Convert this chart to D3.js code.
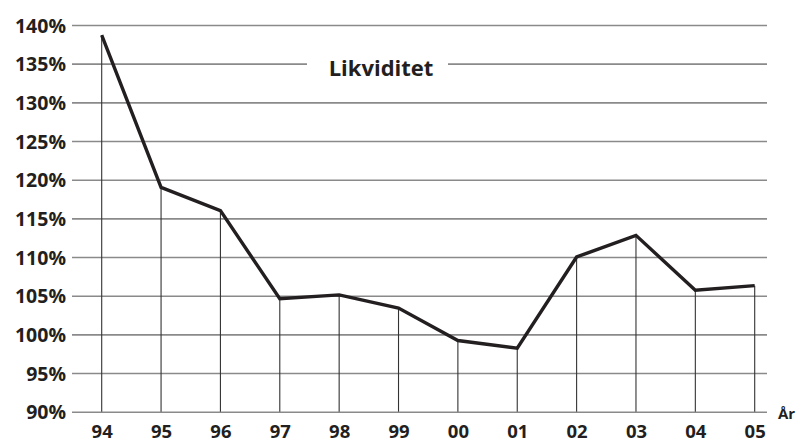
<!DOCTYPE html>
<html><head><meta charset="utf-8">
<script src="https://cdn.jsdelivr.net/npm/d3@7"></script>
<style>
html,body{margin:0;padding:0;background:#fff;}
text{font-family:"Open Sans",sans-serif;font-weight:700;fill:#231f20;}
</style></head>
<body><svg id="c" width="799" height="443"></svg>
<script>
const years = ["94","95","96","97","98","99","00","01","02","03","04","05"];
const values = [138.7,119.0,116.0,104.6,105.1,103.4,99.2,98.2,110.0,112.8,105.7,106.3];
const yTicks = [90,95,100,105,110,115,120,125,130,135,140];
const title = "Likviditet";
const xUnit = "År";

const svg = d3.select("#c");
const x = d3.scalePoint().domain(years).range([101.7,754.7]);
const y = d3.scaleLinear().domain([90,140]).range([411.7,25]);
const gridRight = 767, gridLeft = 72;

const ya = svg.append("g").attr("transform",`translate(${gridRight},0)`)
  .call(d3.axisLeft(y).tickValues(yTicks).tickSize(gridRight-gridLeft).tickPadding(6).tickFormat(d=>d+"%"));
ya.select(".domain").remove();
ya.selectAll("line").attr("stroke","#8a8a8a").attr("stroke-width",1.6);
ya.selectAll("text").attr("font-size","19.5px").attr("dy","0.36em").style("fill","#231f20");

// title with white gap over 135% gridline
svg.append("rect").attr("x",307).attr("y",y(135)-4).attr("width",141).attr("height",8).attr("fill","#fff");
svg.append("text").attr("x",381).attr("y",76).attr("text-anchor","middle").attr("font-size","22px").text(title);

// vertical drop lines
svg.append("g").selectAll("line").data(values).join("line")
  .attr("x1",(d,i)=>x(years[i])).attr("x2",(d,i)=>x(years[i]))
  .attr("y1",d=>y(d)).attr("y2",y(90))
  .attr("stroke","#333").attr("stroke-width",1.1);

// x axis labels
const xa = svg.append("g").attr("transform",`translate(0,${y(90)})`)
  .call(d3.axisBottom(x).tickSize(0).tickPadding(0));
xa.select(".domain").remove();
xa.selectAll("text").attr("font-size","18.5px").attr("dy",null).attr("y",26.3).style("fill","#231f20");

svg.append("text").attr("x",778).attr("y",419).attr("font-size","15px").text(xUnit);

// data line
svg.append("path").datum(values)
  .attr("d",d3.line().x((d,i)=>x(years[i])).y(d=>y(d)))
  .attr("fill","none").attr("stroke","#231f20").attr("stroke-width",3.4).attr("stroke-linejoin","miter");
</script></body></html>
